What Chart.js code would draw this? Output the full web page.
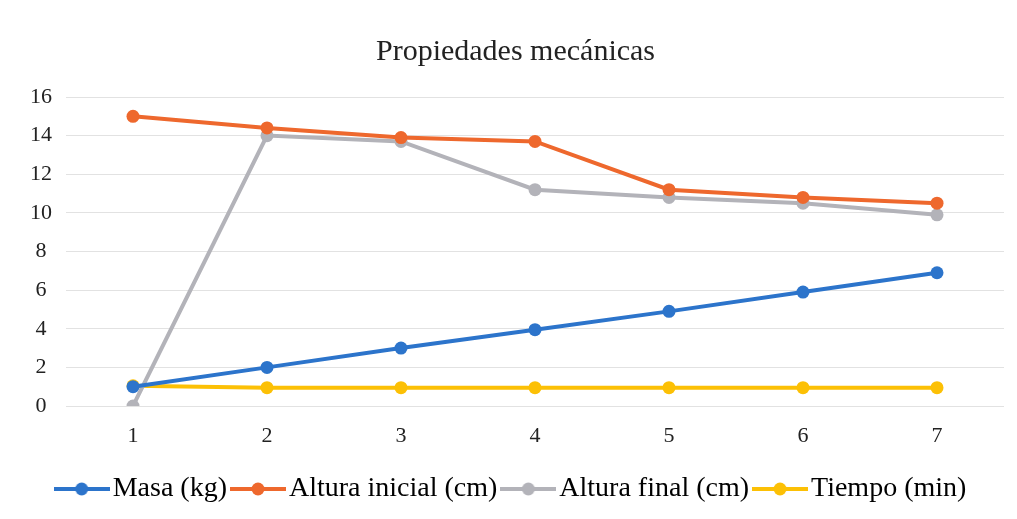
<!DOCTYPE html>
<html>
<head>
<meta charset="utf-8">
<script src="https://cdn.jsdelivr.net/npm/chart.js@4"></script>
<style>
  html, body { margin: 0; padding: 0; background: #fff; }
  #wrap { width: 1017px; height: 519px; }
</style>
</head>
<body>
<div id="wrap"><canvas id="mechChart" width="1017" height="519"></canvas></div>
<script>
const categories = ['1', '2', '3', '4', '5', '6', '7'];
const masa = [1, 2, 3, 3.95, 4.9, 5.9, 6.9];
const alturaInicial = [15, 14.4, 13.9, 13.7, 11.2, 10.8, 10.5];
const alturaFinal = [0, 14, 13.7, 11.2, 10.8, 10.5, 9.9];
const tiempo = [1.05, 0.95, 0.95, 0.95, 0.95, 0.95, 0.95];

const seriesNames = ['Masa (kg)', 'Altura inicial (cm)', 'Altura final (cm)', 'Tiempo (min)'];
const seriesColors = ['#2c74cb', '#ee682d', '#b3b3b9', '#fcc005'];

const serif = "'Liberation Serif', 'DejaVu Serif', serif";

// small line-with-dot image for each legend entry
function legendIcon(color) {
  const c = document.createElement('canvas');
  c.width = 56; c.height = 14;
  const g = c.getContext('2d');
  g.strokeStyle = color;
  g.lineWidth = 4;
  g.beginPath();
  g.moveTo(0, 7);
  g.lineTo(56, 7);
  g.stroke();
  g.fillStyle = color;
  g.beginPath();
  g.arc(28, 7, 6.5, 0, Math.PI * 2);
  g.fill();
  return c;
}

const icons = seriesColors.map(legendIcon);
const allData = [masa, alturaInicial, alturaFinal, tiempo];
const datasets = allData.map((vals, i) => ({
  label: seriesNames[i],
  data: vals,
  borderColor: seriesColors[i],
  backgroundColor: seriesColors[i],
  borderWidth: 4,
  pointRadius: 6.5,
  pointHoverRadius: 6.5,
  pointStyle: 'circle',
  pointBorderWidth: 0,
  tension: 0
}));

const ctx = document.getElementById('mechChart').getContext('2d');
new Chart(ctx, {
  type: 'line',
  data: { labels: categories, datasets: datasets },
  options: {
    responsive: false,
    animation: false,
    // a bit more left padding so title and legend sit a little right of centre
    layout: { padding: { left: 27, right: 13, top: 0, bottom: 6 } },
    plugins: {
      title: {
        display: true,
        text: 'Propiedades mecánicas',
        color: '#222',
        font: { family: serif, size: 30, weight: 'normal' },
        padding: { top: 34, bottom: 27 }
      },
      legend: {
        position: 'bottom',
        labels: {
          color: '#222',
          font: { family: serif, size: 28 },
          usePointStyle: true,
          pointStyleWidth: 34,
          padding: 14,
          generateLabels: chart => chart.data.datasets.map((d, i) => ({
            text: d.label,
            pointStyle: icons[i],
            fillStyle: d.borderColor,
            strokeStyle: d.borderColor,
            lineWidth: 0,
            datasetIndex: i,
            hidden: false
          }))
        }
      },
      tooltip: { enabled: false }
    },
    scales: {
      x: {
        offset: true,
        grid: { display: false },
        border: { display: false },
        ticks: { color: '#222', font: { family: serif, size: 22 }, padding: 9 },
        afterFit: s => { s.height = 55; }
      },
      y: {
        min: 0,
        max: 16,
        grid: { color: '#e2e2e2', drawTicks: false },
        border: { display: false },
        ticks: { stepSize: 2, color: '#222', font: { family: serif, size: 22 }, padding: 14, crossAlign: 'center' },
        afterFit: s => { s.width = 39; }
      }
    }
  }
});
</script>
</body>
</html>
